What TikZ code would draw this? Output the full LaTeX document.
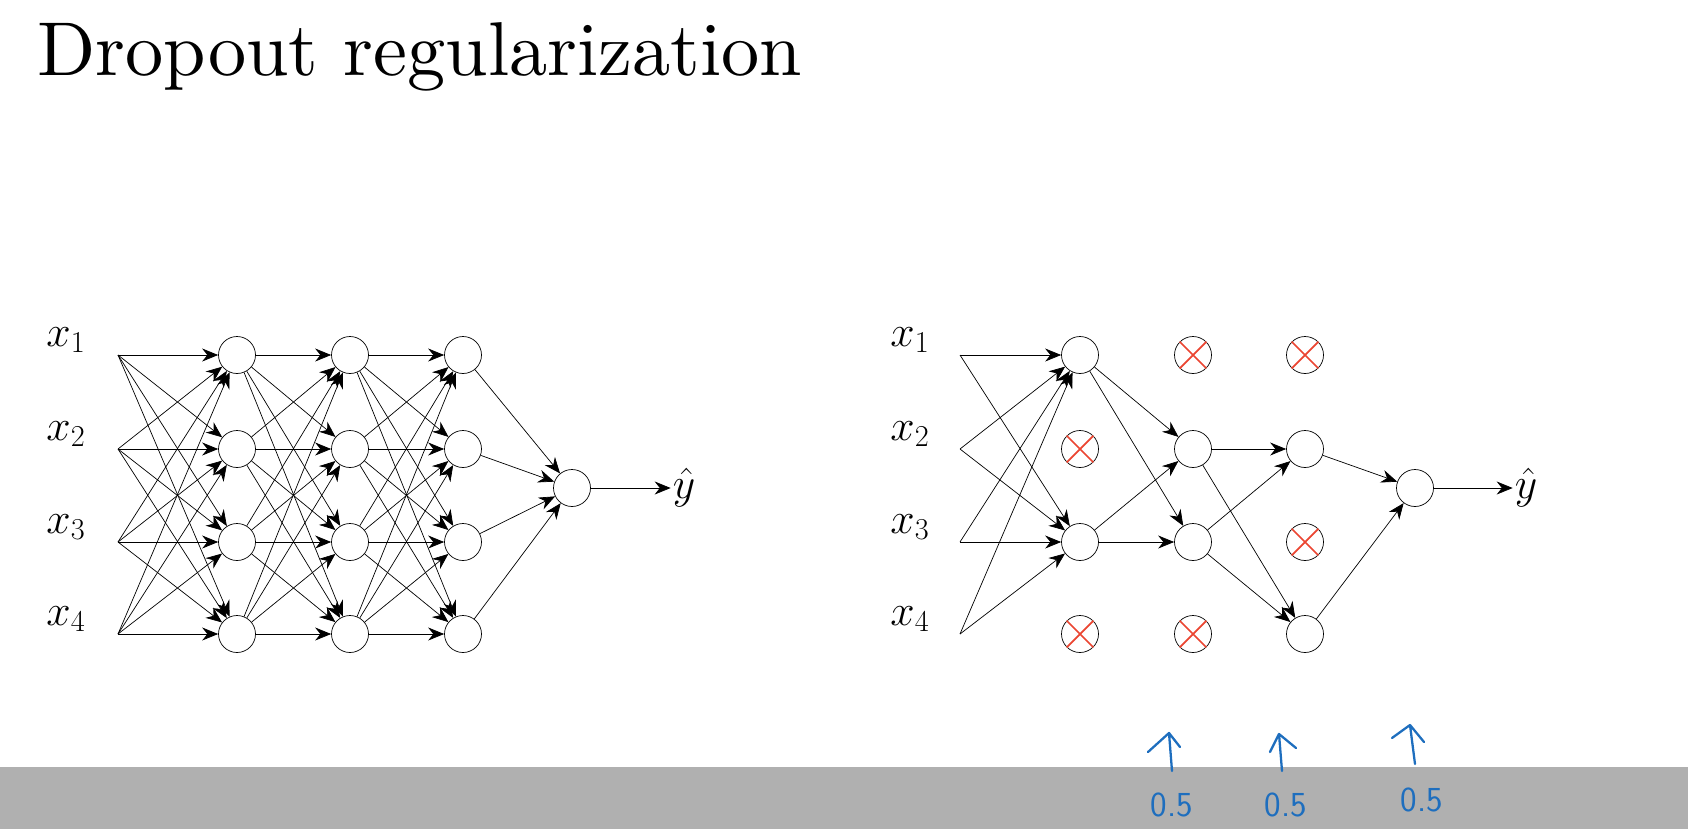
\documentclass[tikz,border=0pt]{standalone}
\usetikzlibrary{arrows.meta}
\definecolor{penblue}{RGB}{30,110,190}
\definecolor{crossred}{RGB}{235,70,50}
\definecolor{barGrey}{RGB}{176,176,176}

\tikzset{
	unit/.style={circle,draw,thin,minimum size=0.74cm,inner sep=0pt},
	edge/.style={-{Stealth[length=3.2mm,width=2.6mm]},line width=0.4pt},
	inlabel/.style={font=\fontsize{26}{28}\selectfont,anchor=center,inner sep=1pt},
	pen/.style={penblue,line width=1.3pt,line cap=round,line join=round},
	pennum/.style={penblue,font=\sffamily\fontsize{20}{22}\selectfont},
}
\newcommand{\dropped}[1]{%
	\draw[crossred,line width=1pt] (#1.45) -- (#1.225) (#1.135) -- (#1.315);}

\begin{document}
\begin{tikzpicture}[x=0.02cm,y=-0.02cm]
\useasboundingbox (0,0) rectangle (1688,829);

% title
\node[anchor=base west,inner sep=0pt] (title) at (37,75)
	{\resizebox{15.3cm}{!}{Dropout regularization}};

% left network
\foreach \i/\y in {1/355,2/449,3/542,4/634}{
	\node[inlabel] (lx\i) at (66,\y-15) {$x_{\i}$};
	\coordinate (li\i) at (118,\y);
	\node[unit] (la\i) at (237,\y) {};
	\node[unit] (lb\i) at (350,\y) {};
	\node[unit] (lc\i) at (463,\y) {};
}
\node[unit] (lo) at (572,488) {};
\node[inlabel] (lyhat) at (684,488) {$\hat{y}$};

\foreach \i in {1,...,4}{
	\foreach \j in {1,...,4}{
		\draw[edge] (li\i) -- (la\j);
		\draw[edge] (la\i) -- (lb\j);
		\draw[edge] (lb\i) -- (lc\j);
	}
	\draw[edge] (lc\i) -- (lo);
}
\draw[edge] (lo) -- (lyhat.west);

% right network (after dropout)
\foreach \i/\y in {1/355,2/449,3/542,4/634}{
	\node[inlabel] (rx\i) at (910,\y-15) {$x_{\i}$};
	\coordinate (ri\i) at (960,\y);
	\node[unit] (ra\i) at (1080,\y) {};
	\node[unit] (rb\i) at (1193,\y) {};
	\node[unit] (rc\i) at (1305,\y) {};
}
\node[unit] (ro) at (1415,488) {};
\node[inlabel] (ryhat) at (1526,488) {$\hat{y}$};

\dropped{ra2} \dropped{ra4}
\dropped{rb1} \dropped{rb4}
\dropped{rc1} \dropped{rc3}

\foreach \i in {1,...,4}{
	\draw[edge] (ri\i) -- (ra1);
	\draw[edge] (ri\i) -- (ra3);
}
\foreach \a in {1,3}{
	\foreach \b in {2,3}{
		\draw[edge] (ra\a) -- (rb\b);
	}
}
\foreach \b in {2,3}{
	\foreach \c in {2,4}{
		\draw[edge] (rb\b) -- (rc\c);
	}
}
\draw[edge] (rc2) -- (ro);
\draw[edge] (rc4) -- (ro);
\draw[edge] (ro) -- (ryhat.west);

% subtitle bar
\fill[barGrey] (0,767) rectangle (1688,829);

% handwritten keep-probabilities
\draw[pen] (1172,771) -- (1169,733) (1148,752) -- (1169,733) -- (1180,747);
\draw[pen] (1282,771) -- (1279,734) (1270,752) -- (1279,734) -- (1296,748);
\draw[pen] (1415,764) -- (1410,725) (1392,738) -- (1410,725) -- (1424,742);
\node[pennum] (pa) at (1172,805) {0.5};
\node[pennum] (pb) at (1286,805) {0.5};
\node[pennum] (pc) at (1422,800) {0.5};
\end{tikzpicture}
\end{document}
